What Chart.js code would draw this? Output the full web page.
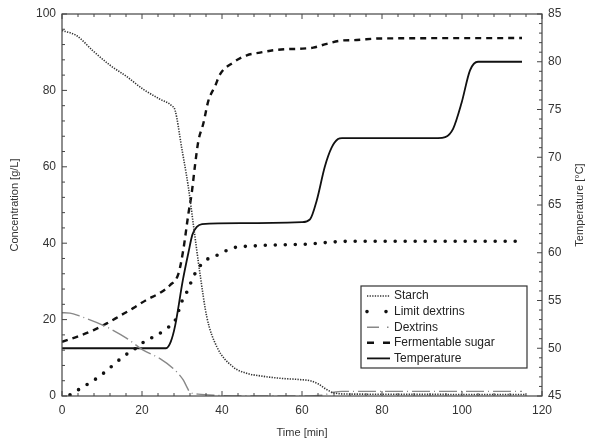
<!DOCTYPE html>
<html>
<head>
<meta charset="utf-8">
<title>Mashing profile</title>
<script src="https://cdn.jsdelivr.net/npm/chart.js@4.4.1/dist/chart.umd.min.js"></script>
<style>
  body { margin: 0; background: #fff; }
  canvas { display: block; }
</style>
</head>
<body>
<canvas id="mashChart" width="589" height="444"></canvas>
<script>
// values, time in min
const starchTime = [0, 3.7, 7.8, 12, 16.2, 20.3, 24.5, 27.4, 28.3, 29.9, 31.6, 32.8, 34.5, 36.2, 38.7, 42.8, 46, 50, 55, 59.5, 62, 64, 66, 68, 72, 116];
const starch = [95.7, 94.3, 90.3, 86.6, 83.6, 80.3, 77.7, 76, 74.7, 65.1, 54.6, 45.2, 32, 20.7, 12.9, 7.6, 6, 5.2, 4.6, 4.3, 4, 3.2, 1.8, 0.8, 0.5, 0.4];

const limitTime = [2, 5.3, 7.8, 10.3, 12.8, 15.3, 18.3, 20.8, 23.7, 26.2, 28.3, 29.9, 31.2, 32.4, 33.7, 36.2, 38.7, 41.2, 43.7, 46.5, 52, 60, 72, 115];
const limitDextrins = [0.3, 2.4, 4, 5.9, 8.1, 10.3, 12.4, 14.4, 15.9, 17.7, 19.8, 24.6, 27.2, 30.1, 32.9, 35.7, 36.8, 38.1, 39, 39.2, 39.5, 39.7, 40.5, 40.5];

const dextrinTime = [0, 2, 4.5, 10.3, 16.2, 20.3, 24.5, 27.8, 30.3, 31.2, 32, 34, 38, 45, 60, 65, 68, 70, 115];
const dextrins = [21.8, 21.7, 20.9, 18.5, 15.1, 12, 9.8, 7.2, 4.2, 2.4, 1, 0.5, 0.2, 0, 0, 0.2, 1, 1.2, 1.2];

const sugarTime = [0, 4.5, 7.8, 11.2, 14.5, 17.8, 21.2, 24.5, 27, 29.1, 30.3, 31.6, 32.4, 33.3, 34.1, 35.3, 36.6, 38.3, 39.5, 42.8, 46.2, 49.5, 52.8, 56.2, 59.5, 62.8, 66.2, 69.5, 73.7, 79.5, 115];
const sugar = [14.2, 15.8, 17.2, 19, 21, 23, 25.2, 27, 29, 32, 38.1, 47.7, 52.9, 60.8, 66.8, 71.2, 77.3, 81.2, 84.2, 87.3, 89.2, 89.9, 90.5, 90.8, 90.9, 91.2, 92.2, 93, 93.2, 93.6, 93.7];

const tempTime = [0, 26, 27.2, 28.3, 30.2, 31.6, 32.6, 33.7, 35, 45, 60, 62, 63.7, 65.7, 67.4, 69, 70, 80, 94, 95.8, 97.8, 99.9, 102, 104, 115];
const temperature = [50, 50, 50.7, 52.4, 57.1, 60, 61.9, 62.7, 63, 63.1, 63.2, 63.5, 65.5, 69, 71, 71.9, 72, 72, 72, 72.1, 73, 75.7, 79.1, 80, 80];

const timeTicks = [0, 20, 40, 60, 80, 100, 120];
const concTicks = [0, 20, 40, 60, 80, 100];
const tempTicks = [45, 50, 55, 60, 65, 70, 75, 80, 85];

function pairs(xs, ys) {
    return xs.map((x, i) => ({ x: x, y: ys[i] }));
}

const labelFont = { family: 'Liberation Sans, Arial, sans-serif', size: 12 };
const titleFont = { family: 'Liberation Sans, Arial, sans-serif', size: 11 };

// frame box with inward ticks on all four sides
const frameTicks = {
    id: 'frameTicks',
    afterDatasetsDraw(chart) {
        const { ctx, chartArea: a, scales } = chart;
        ctx.save();
        ctx.strokeStyle = '#444';
        ctx.lineWidth = 1.2;
        ctx.strokeRect(a.left, a.top, a.right - a.left, a.bottom - a.top);
        ctx.lineWidth = 1;
        ctx.beginPath();
        for (let t = 0; t <= 120; t += 4) {
            const x = scales.x.getPixelForValue(t);
            const len = t % 20 === 0 ? 5 : 3;
            ctx.moveTo(x, a.bottom); ctx.lineTo(x, a.bottom - len);
            ctx.moveTo(x, a.top); ctx.lineTo(x, a.top + len);
        }
        for (let c = 0; c <= 100; c += 4) {
            const y = scales.y.getPixelForValue(c);
            const len = c % 20 === 0 ? 5 : 3;
            ctx.moveTo(a.left, y); ctx.lineTo(a.left + len, y);
        }
        for (let T = 45; T <= 85; T += 1) {
            const y = scales.y1.getPixelForValue(T);
            const len = T % 5 === 0 ? 5 : 3;
            ctx.moveTo(a.right, y); ctx.lineTo(a.right - len, y);
        }
        ctx.stroke();

        // right axis title, reads bottom to top like the left one
        ctx.fillStyle = '#333';
        ctx.font = '11px "Liberation Sans", Arial, sans-serif';
        ctx.textAlign = 'center';
        ctx.textBaseline = 'middle';
        ctx.translate(580, (a.top + a.bottom) / 2);
        ctx.rotate(-Math.PI / 2);
        ctx.fillText('Temperature [°C]', 0, 0);
        ctx.restore();
    }
};

// legend box inside the plot, bottom right
const boxLegend = {
    id: 'boxLegend',
    afterDraw(chart) {
        const ctx = chart.ctx;
        const left = 361, top = 286, w = 166, h = 82;
        ctx.save();
        ctx.fillStyle = '#fff';
        ctx.fillRect(left, top, w, h);
        ctx.strokeStyle = '#333';
        ctx.lineWidth = 1.2;
        ctx.strokeRect(left, top, w, h);
        ctx.font = '12px "Liberation Sans", Arial, sans-serif';
        ctx.textBaseline = 'middle';
        chart.data.datasets.forEach((ds, i) => {
            const y = top + 10 + i * 15.6;
            ctx.beginPath();
            ctx.strokeStyle = ds.borderColor;
            ctx.lineWidth = ds.borderWidth;
            ctx.lineCap = ds.borderCapStyle || 'butt';
            ctx.setLineDash(ds.legendDash || ds.borderDash || []);
            ctx.moveTo(367, y);
            ctx.lineTo(390, y);
            ctx.stroke();
            ctx.setLineDash([]);
            ctx.fillStyle = '#222';
            ctx.fillText(ds.label, 394, y);
        });
        ctx.restore();
    }
};

const ctx = document.getElementById('mashChart').getContext('2d');

const mashChart = new Chart(ctx, {
    type: 'line',
    data: {
        datasets: [{
            label: 'Starch',
            data: pairs(starchTime, starch),
            yAxisID: 'y',
            borderColor: '#333',
            borderWidth: 1.6,
            borderDash: [1.3, 1.3],
            legendDash: [1.3, 1.3]
        }, {
            label: 'Limit dextrins',
            data: pairs(limitTime, limitDextrins),
            yAxisID: 'y',
            borderColor: '#111',
            borderWidth: 3.6,
            borderCapStyle: 'round',
            borderDash: [0, 10],
            legendDash: [0, 19]
        }, {
            label: 'Dextrins',
            data: pairs(dextrinTime, dextrins),
            yAxisID: 'y',
            borderColor: '#888',
            borderWidth: 1.4,
            borderDash: [18, 4, 1, 4],
            legendDash: [12, 8, 1.5, 10]
        }, {
            label: 'Fermentable sugar',
            data: pairs(sugarTime, sugar),
            yAxisID: 'y',
            borderColor: '#111',
            borderWidth: 2.4,
            borderDash: [6, 5],
            legendDash: [7, 9]
        }, {
            label: 'Temperature',
            data: pairs(tempTime, temperature),
            yAxisID: 'y1',
            borderColor: '#111',
            borderWidth: 1.8
        }]
    },
    options: {
        responsive: false,
        animation: false,
        devicePixelRatio: 1,
        layout: { padding: { top: 14, right: 0, left: 0, bottom: 0 } },
        elements: {
            point: { radius: 0 },
            line: { cubicInterpolationMode: 'monotone', fill: false }
        },
        plugins: {
            legend: { display: false },
            tooltip: { enabled: false }
        },
        scales: {
            x: {
                type: 'linear',
                min: 0,
                max: 120,
                afterBuildTicks: (s) => { s.ticks = timeTicks.map(v => ({ value: v })); },
                afterFit: (s) => { s.height = 48; },
                grid: { display: false, drawTicks: false },
                border: { display: false },
                ticks: { font: labelFont, color: '#333', padding: 7, maxRotation: 0 },
                title: { display: true, text: 'Time [min]', font: titleFont, color: '#333', padding: { top: 0, bottom: 4 } }
            },
            y: {
                position: 'left',
                min: 0,
                max: 100,
                afterBuildTicks: (s) => { s.ticks = concTicks.map(v => ({ value: v })); },
                afterFit: (s) => { s.width = 62; },
                grid: { display: false, drawTicks: false },
                border: { display: false },
                ticks: { font: labelFont, color: '#333', padding: 6 },
                title: { display: true, text: 'Concentration [g/L]', font: titleFont, color: '#333', padding: { top: 8, bottom: 0 } }
            },
            y1: {
                position: 'right',
                min: 45,
                max: 85,
                afterBuildTicks: (s) => { s.ticks = tempTicks.map(v => ({ value: v })); },
                afterFit: (s) => { s.width = 47; },
                grid: { display: false, drawTicks: false },
                border: { display: false },
                ticks: { font: labelFont, color: '#333', padding: 6 }
            }
        }
    },
    plugins: [frameTicks, boxLegend]
});
</script>
</body>
</html>
